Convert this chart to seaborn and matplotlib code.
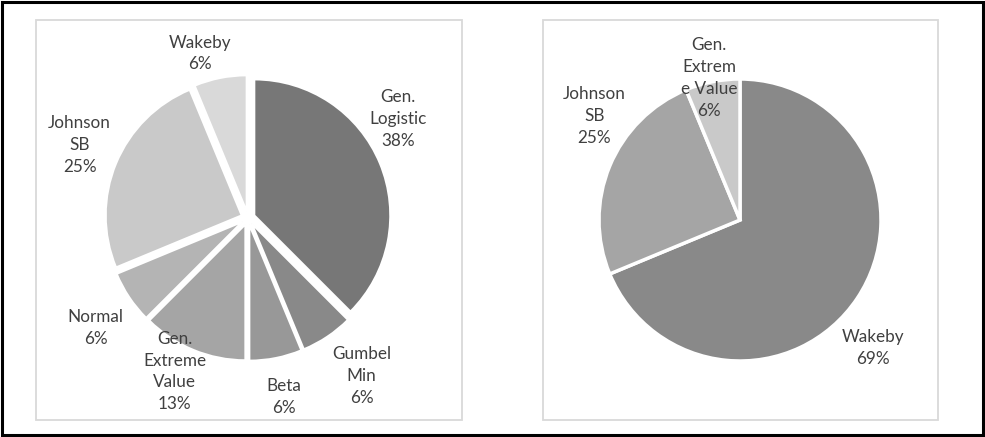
import numpy as np
import matplotlib
matplotlib.use("Agg")
import matplotlib.pyplot as plt
from matplotlib.patches import Rectangle
import seaborn as sns

sns.set_theme(style="white")
plt.rcParams['font.family'] = ['Lato', 'DejaVu Sans']

# Data
left_labels = ["Gen.\nLogistic", "Gumbel\nMin", "Beta", "Gen.\nExtreme\nValue", "Normal", "Johnson\nSB", "Wakeby"]
left_values = [6, 1, 1, 2, 1, 4, 1]
left_pct = ["38%", "6%", "6%", "13%", "6%", "25%", "6%"]

right_labels = ["Wakeby", "Johnson\nSB", "Gen.\nExtrem\ne Value"]
right_values = [11, 4, 1]
right_pct = ["69%", "25%", "6%"]

left_colors = ["#777777", "#898989", "#989898", "#a5a5a5", "#b4b4b4", "#c9c9c9", "#d9d9d9"]
right_colors = ["#898989", "#a5a5a5", "#c9c9c9"]

W, H = 985, 437
fig = plt.figure(figsize=(W / 100, H / 100), dpi=100)
fig.patch.set_facecolor("white")

def fx(px):
    return px / W

def fy(py_top):
    return 1 - py_top / H

# outer black border
fig.add_artist(Rectangle((fx(2), fy(435)), fx(981), 433 / H, transform=fig.transFigure,
                         fill=False, edgecolor="black", lw=2.2))
# inner boxes
fig.add_artist(Rectangle((fx(36), fy(420)), fx(426), 400 / H, transform=fig.transFigure,
                         fill=False, edgecolor="#d9d9d9", lw=1.3))
fig.add_artist(Rectangle((fx(543), fy(420)), fx(395), 400 / H, transform=fig.transFigure,
                         fill=False, edgecolor="#d9d9d9", lw=1.3))

text_color = "#404040"

def make_pie(cx, cy, r_px, L, values, labels, pct, colors, explode, lw, dists, dang):
    size = 2 * L * r_px
    ax = fig.add_axes([fx(cx - size / 2), fy(cy + size / 2), fx(size), size / H])
    wedges, _ = ax.pie(values, colors=colors, startangle=90, counterclock=False,
                       explode=[explode] * len(values),
                       wedgeprops=dict(edgecolor="white", linewidth=lw))
    ax.set_xlim(-L, L)
    ax.set_ylim(-L, L)
    ax.set_aspect("equal")
    ax.axis("off")
    for w, lab, p, d, da in zip(wedges, labels, pct, dists, dang):
        ang = np.deg2rad((w.theta1 + w.theta2) / 2 + da)
        ax.text(d * np.cos(ang), d * np.sin(ang), lab + "\n" + p, ha="center", va="center",
                fontsize=12.3, color=text_color, linespacing=1.45)
    return ax

make_pie(248, 218, 136, 1.6, left_values, left_labels, left_pct, left_colors,
         0.05, 1.5,
         dists=[1.32, 1.43, 1.34, 1.25, 1.38, 1.35, 1.26],
         dang=[11, 2, 0, -3, 2, -1, 5])

make_pie(740, 220, 141, 1.5, right_values, right_labels, right_pct, right_colors,
         0.0, 2.5,
         dists=[1.31, 1.27, 1.03],
         dang=[-10, -13, 1])

fig.savefig("out.png", dpi=100, facecolor="white")
